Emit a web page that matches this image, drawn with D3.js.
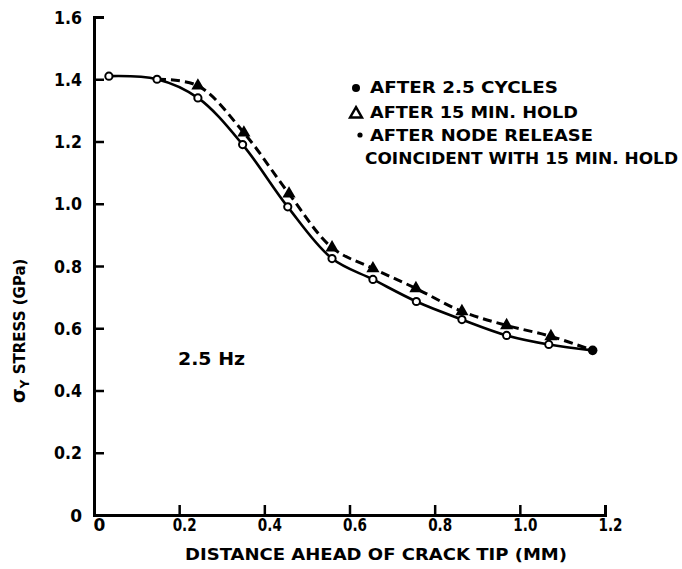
<!DOCTYPE html>
<html>
<head>
<meta charset="utf-8">
<script src="https://cdn.jsdelivr.net/npm/d3@7"></script>
<style>
  html, body { margin: 0; padding: 0; background: #fff; }
  svg { display: block; }
  text { font-family: "DejaVu Sans", sans-serif; font-weight: bold; fill: #000; }
</style>
</head>
<body>
<svg id="chart" width="682" height="569"></svg>
<script>
// ---- data ----
const xTicks = [0, 0.2, 0.4, 0.6, 0.8, 1.0, 1.2];
const xTickLabels = ["0", "0.2", "0.4", "0.6", "0.8", "1.0", "1.2"];
const yTicks = [0, 0.2, 0.4, 0.6, 0.8, 1.0, 1.2, 1.4, 1.6];
const yTickLabels = ["0", "0.2", "0.4", "0.6", "0.8", "1.0", "1.2", "1.4", "1.6"];

// after node release (open circles, solid curve)
const releaseX = [0.035, 0.148, 0.244, 0.349, 0.455, 0.559, 0.655, 0.757, 0.864, 0.969, 1.068];
const releaseY = [1.41, 1.40, 1.34, 1.19, 0.99, 0.824, 0.757, 0.686, 0.628, 0.577, 0.548];
// after 15 min hold (triangles, dashed curve)
const holdX = [0.244, 0.352, 0.458, 0.559, 0.655, 0.756, 0.864, 0.969, 1.073];
const holdY = [1.379, 1.228, 1.032, 0.859, 0.792, 0.728, 0.654, 0.609, 0.574];
// after 2.5 cycles (filled circle)
const cyclesX = [1.171];
const cyclesY = [0.529];

const legendLabels = ["AFTER 2.5 CYCLES", "AFTER 15 MIN. HOLD", "AFTER NODE RELEASE", "COINCIDENT WITH 15 MIN. HOLD"];

// ---- drawing ----
const svg = d3.select("#chart");
const x = d3.scaleLinear().domain([0, 1.2]).range([94, 605]);
const y = d3.scaleLinear().domain([0, 1.6]).range([515, 17]);

// axes
const xAxis = d3.axisBottom(x).tickValues(xTicks)
  .tickFormat((d, i) => xTickLabels[i]).tickSizeInner(-10).tickSizeOuter(-10).tickPadding(4);
const gx = svg.append("g").attr("transform", `translate(0,${y(0)})`).call(xAxis);
gx.select(".domain").attr("stroke-width", 3);
gx.selectAll(".tick line").attr("stroke-width", 2.5);
gx.selectAll(".tick text").attr("font-size", 17).attr("dx", 5).attr("dy", "0.72em")
  .attr("font-family", "DejaVu Sans").attr("font-weight", "bold")
  .each(function(d, i) {
    if (xTickLabels[i].length > 1) d3.select(this).attr("textLength", 24).attr("lengthAdjust", "spacingAndGlyphs");
  });

const yAxis = d3.axisLeft(y).tickValues(yTicks)
  .tickFormat((d, i) => yTickLabels[i]).tickSizeInner(-10).tickSizeOuter(-10).tickPadding(12);
const gy = svg.append("g").attr("transform", `translate(${x(0)},0)`).call(yAxis);
gy.select(".domain").attr("stroke-width", 3);
gy.selectAll(".tick line").attr("stroke-width", 2.5);
gy.selectAll(".tick text").attr("font-size", 17).attr("dy", "0.36em")
  .attr("font-family", "DejaVu Sans").attr("font-weight", "bold")
  .each(function(d, i) {
    if (yTickLabels[i].length > 1) d3.select(this).attr("textLength", 28).attr("lengthAdjust", "spacingAndGlyphs");
  });

// axis titles
svg.append("text")
  .attr("x", 185).attr("y", 560)
  .attr("font-size", 16)
  .attr("textLength", 382).attr("lengthAdjust", "spacingAndGlyphs")
  .text("DISTANCE AHEAD OF CRACK TIP (MM)");

const yt = svg.append("text")
  .attr("transform", "translate(25,403) rotate(-90)")
  .attr("font-size", 15);
yt.append("tspan").text("σ").attr("font-size", 19);
yt.append("tspan").text("Y").attr("font-size", 12).attr("dy", 4);
yt.append("tspan").text(" STRESS (GPa)").attr("dy", -4);

// curves
const line = d3.line().x(d => x(d[0])).y(d => y(d[1])).curve(d3.curveCatmullRom.alpha(0.5));

const solidPts = releaseX.map((v, i) => [v, releaseY[i]]).concat(cyclesX.map((v, i) => [v, cyclesY[i]]));
svg.append("path").datum(solidPts).attr("d", line)
  .attr("fill", "none").attr("stroke", "#000").attr("stroke-width", 2.6);

const dashedPts = [[releaseX[1], releaseY[1]]]
  .concat(holdX.map((v, i) => [v, holdY[i]]))
  .concat(cyclesX.map((v, i) => [v, cyclesY[i]]));
svg.append("path").datum(dashedPts).attr("d", line)
  .attr("fill", "none").attr("stroke", "#000").attr("stroke-width", 3)
  .attr("stroke-dasharray", "9,5");

// markers
svg.append("g").selectAll("path").data(holdX).join("path")
  .attr("d", d3.symbol(d3.symbolTriangle).size(75))
  .attr("transform", (d, i) => `translate(${x(d)},${y(holdY[i])})`)
  .attr("fill", "#000");

svg.append("g").selectAll("circle").data(releaseX).join("circle")
  .attr("cx", d => x(d)).attr("cy", (d, i) => y(releaseY[i])).attr("r", 3.6)
  .attr("fill", "#fff").attr("stroke", "#000").attr("stroke-width", 2);

svg.append("g").selectAll("circle").data(cyclesX).join("circle")
  .attr("cx", d => x(d)).attr("cy", (d, i) => y(cyclesY[i])).attr("r", 4.8)
  .attr("fill", "#000");

// annotation
svg.append("text").attr("x", 178).attr("y", 365).attr("font-size", 17)
  .attr("textLength", 67).attr("lengthAdjust", "spacingAndGlyphs").text("2.5 Hz");

// legend
const leg = svg.append("g");
const legY = [93, 118, 141, 164];
const legX = [370, 370, 370, 365];
const legW = [188, 208, 223, 313];
leg.selectAll("text").data(legendLabels).join("text")
  .attr("x", (d, i) => legX[i]).attr("y", (d, i) => legY[i])
  .attr("font-size", 15)
  .attr("textLength", (d, i) => legW[i]).attr("lengthAdjust", "spacingAndGlyphs")
  .text(d => d);
leg.append("circle").attr("cx", 356).attr("cy", 88).attr("r", 4).attr("fill", "#000");
leg.append("path").attr("d", d3.symbol(d3.symbolTriangle).size(60))
  .attr("transform", "translate(356,114)")
  .attr("fill", "#fff").attr("stroke", "#000").attr("stroke-width", 2.5);
leg.append("circle").attr("cx", 360).attr("cy", 135).attr("r", 2.6).attr("fill", "#000");
</script>
</body>
</html>
